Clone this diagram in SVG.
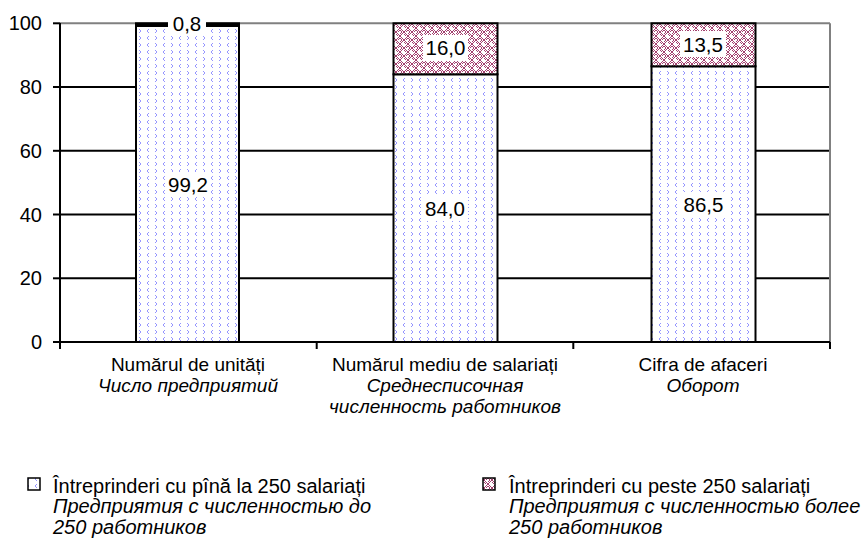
<svg xmlns="http://www.w3.org/2000/svg" width="862" height="542" viewBox="0 0 862 542">
<style>
text{font-family:"Liberation Sans",Arial,sans-serif;font-size:20px;fill:#000}
.ax{font-size:19px}
.dl{font-size:20.5px}
.it{font-style:italic}
.mid{text-anchor:middle}
.end{text-anchor:end}
.grid{stroke:#000;stroke-width:2}
.bar{stroke:#000;stroke-width:2}
.lb{fill:#fff}
</style>
<defs>
<pattern id="blue" width="16" height="14" patternUnits="userSpaceOnUse">
<rect width="16" height="14" fill="#fff"/>
<path d="M5,1 L3,3 L5,5 M11,8 L13,10 L11,12 M11,1 L13,3 L11,5 M5,8 L3,10 L5,12" fill="none" stroke="#9696ff" stroke-width="1"/>
</pattern>
<pattern id="weave" width="8" height="8" patternUnits="userSpaceOnUse">
<rect width="8" height="8" fill="#fff"/>
<path d="M0,4 L4,0 M0,2 L2,0 M4,8 L8,4 M6,8 L8,6 M4,0 L8,4 M4,2 L6,4 M0,4 L4,8 M0,6 L2,8" fill="none" stroke="#a3406f" stroke-width="1"/>
</pattern>
</defs>
<g id="axes">
<line class="grid" x1="60" y1="87" x2="830" y2="87"/>
<line class="grid" x1="60" y1="150.8" x2="830" y2="150.8"/>
<line class="grid" x1="60" y1="214.5" x2="830" y2="214.5"/>
<line class="grid" x1="60" y1="278.3" x2="830" y2="278.3"/>
<line x1="60" y1="23.3" x2="830" y2="23.3" stroke="#808080" stroke-width="2"/>
<line x1="830" y1="23.3" x2="830" y2="342" stroke="#808080" stroke-width="2"/>
<line class="grid" x1="53" y1="342" x2="830" y2="342"/>
<line class="grid" x1="60" y1="23" x2="60" y2="349"/>
<g class="grid">
<line x1="53" y1="23.3" x2="60" y2="23.3"/>
<line x1="53" y1="87" x2="60" y2="87"/>
<line x1="53" y1="150.8" x2="60" y2="150.8"/>
<line x1="53" y1="214.5" x2="60" y2="214.5"/>
<line x1="53" y1="278.3" x2="60" y2="278.3"/>
<line x1="316.7" y1="342" x2="316.7" y2="349"/>
<line x1="573.3" y1="342" x2="573.3" y2="349"/>
<line x1="830" y1="342" x2="830" y2="349"/>
</g>
<text class="end" x="42" y="30">100</text>
<text class="end" x="42" y="94">80</text>
<text class="end" x="42" y="158">60</text>
<text class="end" x="42" y="222">40</text>
<text class="end" x="42" y="285">20</text>
<text class="end" x="42" y="349">0</text>
</g>
<g id="bar1">
<rect class="bar" x="136" y="25.9" width="103" height="316.1" fill="url(#blue)"/>
<rect class="bar" x="136" y="23.3" width="103" height="2.6" fill="#000"/>
<rect class="lb" x="168" y="12" width="38" height="24"/>
<text class="mid dl" x="187" y="31">0,8</text>
<rect class="lb" x="165" y="172" width="46" height="25"/>
<text class="mid dl" x="188" y="191.5">99,2</text>
</g>
<g id="bar2">
<rect class="bar" x="393.5" y="74.3" width="104" height="267.7" fill="url(#blue)"/>
<rect class="bar" x="393.5" y="23.3" width="104" height="51" fill="url(#weave)"/>
<rect class="lb" x="423" y="35" width="45" height="26"/>
<text class="mid dl" x="445.5" y="55">16,0</text>
<rect class="lb" x="422" y="196" width="46" height="25"/>
<text class="mid dl" x="445" y="215.5">84,0</text>
</g>
<g id="bar3">
<rect class="bar" x="651.5" y="66.3" width="104" height="275.7" fill="url(#blue)"/>
<rect class="bar" x="651.5" y="23.3" width="104" height="43" fill="url(#weave)"/>
<rect class="lb" x="680" y="31" width="46" height="26"/>
<text class="mid dl" x="703" y="51.5">13,5</text>
<rect class="lb" x="680" y="192" width="46" height="25"/>
<text class="mid dl" x="703.5" y="211.5">86,5</text>
</g>
<g id="xlabels">
<text class="mid ax" x="188" y="371">Numărul de unități</text>
<text class="mid ax it" x="188" y="392">Число предприятий</text>
<text class="mid ax" x="445" y="371">Numărul mediu de salariați</text>
<text class="mid ax it" x="445" y="392">Среднесписочная</text>
<text class="mid ax it" x="445" y="413">численность работников</text>
<text class="mid ax" x="703" y="371">Cifra de afaceri</text>
<text class="mid ax it" x="703" y="392">Оборот</text>
</g>
<g id="legend1">
<rect x="28" y="478" width="12" height="12" fill="url(#blue)" stroke="#000" stroke-width="1.5"/>
<text x="53" y="493">Întreprinderi cu pînă la 250 salariați</text>
<text class="it" x="53" y="513">Предприятия с численностью до</text>
<text class="it" x="53" y="534">250 работников</text>
</g>
<g id="legend2">
<rect x="483" y="478" width="12" height="12" fill="url(#weave)" stroke="#000" stroke-width="1.5"/>
<text x="509" y="493">Întreprinderi cu peste 250 salariați</text>
<text class="it" x="509" y="513">Предприятия с численностью более</text>
<text class="it" x="509" y="534">250 работников</text>
</g>
</svg>
